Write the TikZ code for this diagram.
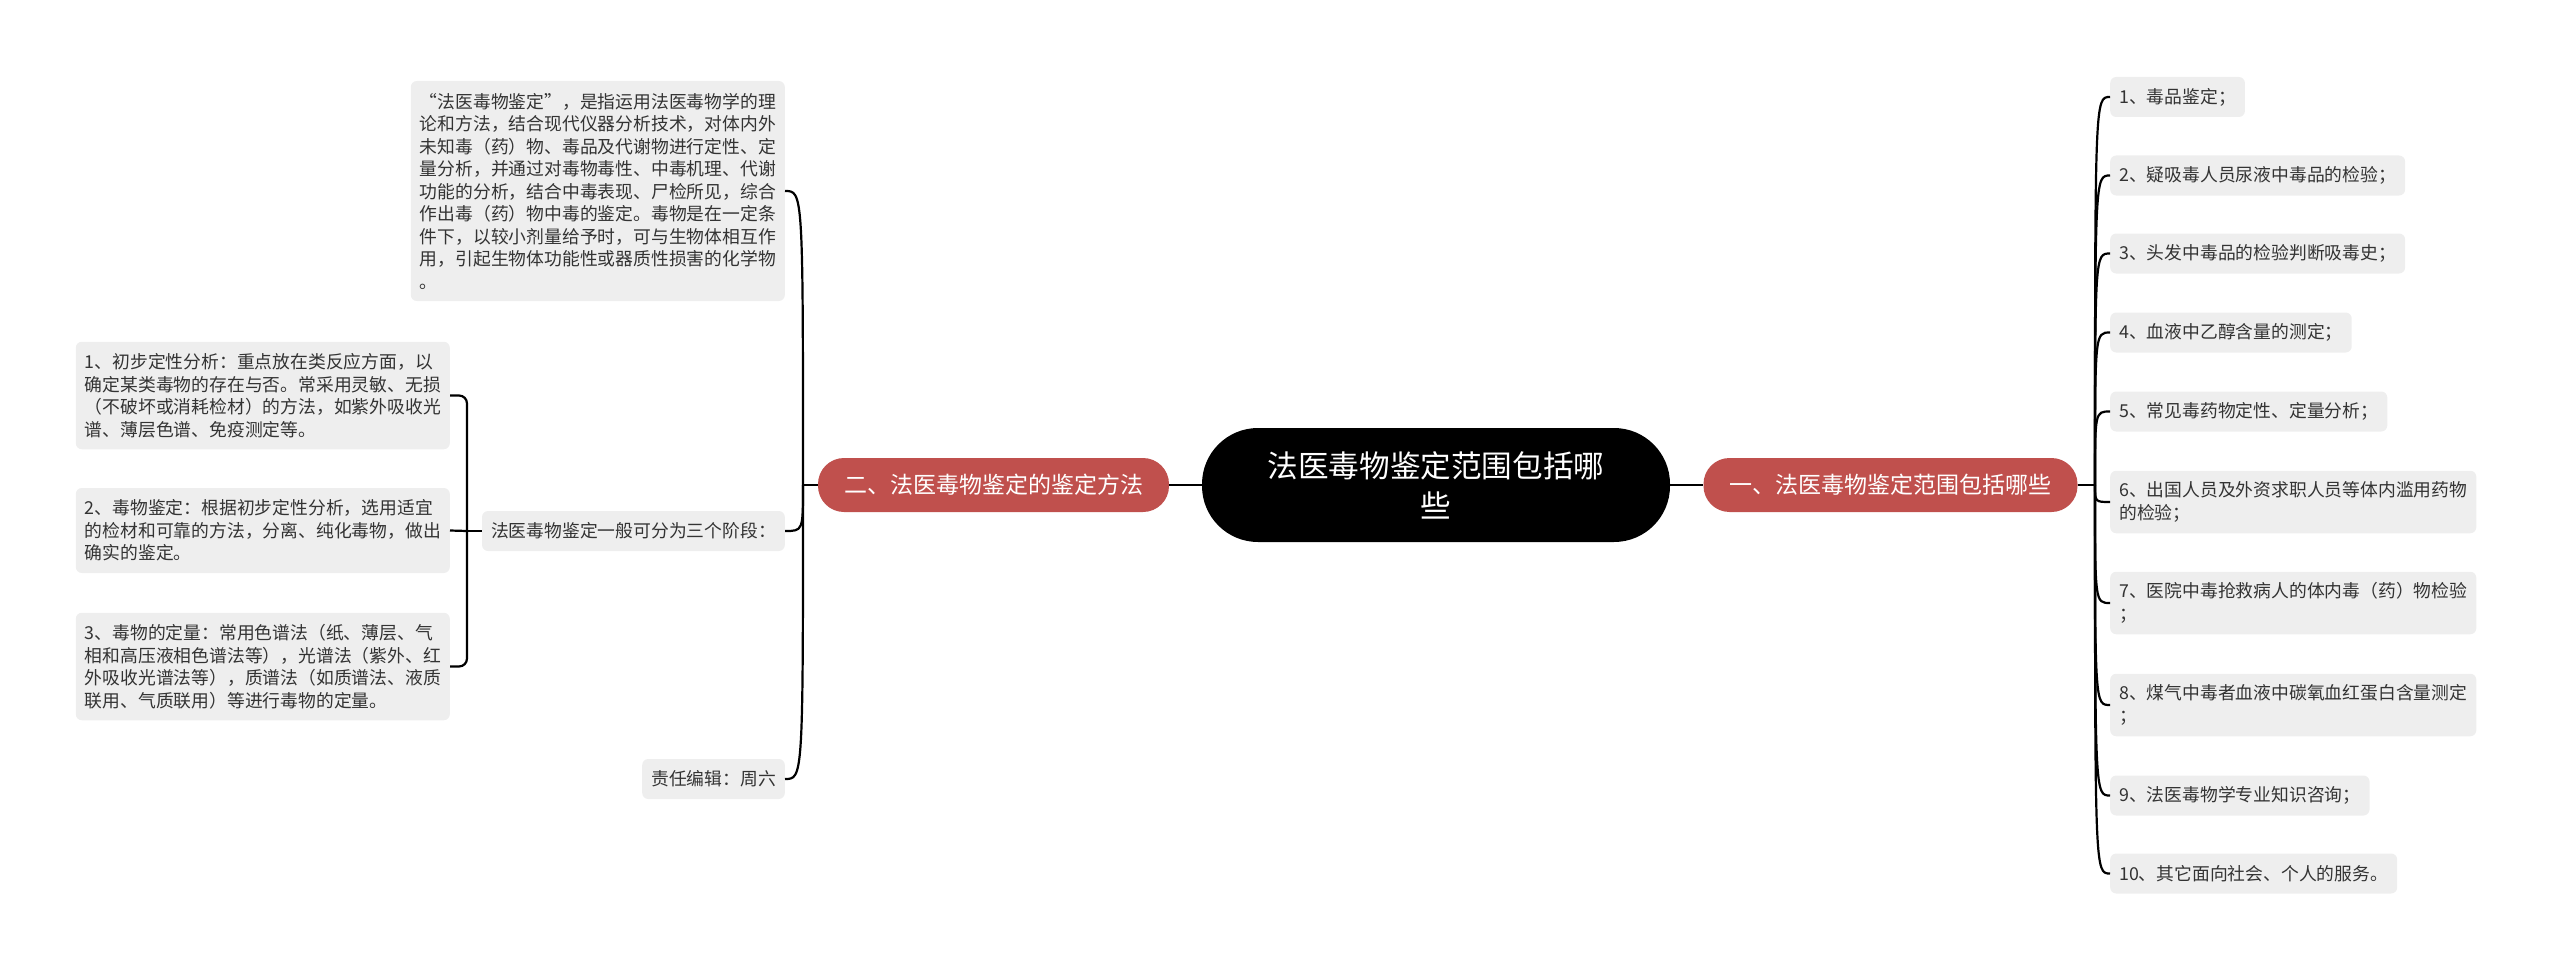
\documentclass[tikz,border=0pt]{standalone}
\usepackage{fontspec}
\setmainfont{Noto Sans CJK SC}
\definecolor{boxgray}{HTML}{EEEEEE}
\definecolor{branchred}{HTML}{C0504D}
\definecolor{leaftext}{HTML}{333333}

\tikzset{
  root/.style={fill=black, text=white, rounded corners=56pt, minimum width=468pt,
    minimum height=114pt, align=center, font=\fontsize{30.6}{40}\selectfont},
  branch/.style={fill=branchred, text=white, rounded corners=26pt, minimum height=54pt,
    inner xsep=26pt, font=\fontsize{23}{28}\selectfont},
  leaf/.style={fill=boxgray, text=leaftext, rounded corners=6pt, inner xsep=9pt,
    inner ysep=3pt, align=left, minimum height=#1, font=\fontsize{17.8}{22.5}\selectfont},
  leaf/.default=40pt,
  link/.style={draw=black, line width=2.2pt},
}

\begin{document}
\begin{tikzpicture}[x=1pt, y=-1pt]
    \useasboundingbox (0,0) rectangle (2560,971);

    % Center and main branches
    \node[root] (root) at (1436,485) {法医毒物鉴定范围包括哪\\些};
    \node[branch] (lb) at (993.5,485) {二、法医毒物鉴定的鉴定方法};
    \node[branch] (rb) at (1890.5,485) {一、法医毒物鉴定范围包括哪些};

    % Left branch children
    \node[leaf=220pt, anchor=east] (desc) at (785,191) {“法医毒物鉴定”，是指运用法医毒物学的理\\论和方法，结合现代仪器分析技术，对体内外\\未知毒（药）物、毒品及代谢物进行定性、定\\量分析，并通过对毒物毒性、中毒机理、代谢\\功能的分析，结合中毒表现、尸检所见，综合\\作出毒（药）物中毒的鉴定。毒物是在一定条\\件下，以较小剂量给予时，可与生物体相互作\\用，引起生物体功能性或器质性损害的化学物\\。};
    \node[leaf, anchor=east] (stage) at (785,531) {法医毒物鉴定一般可分为三个阶段：};
    \node[leaf, anchor=east] (editor) at (785,779) {责任编辑：周六};

    % The three stages
    \node[leaf=107.5pt, anchor=east] (s1) at (450,395.5) {1、初步定性分析：重点放在类反应方面，以\\确定某类毒物的存在与否。常采用灵敏、无损\\（不破坏或消耗检材）的方法，如紫外吸收光\\谱、薄层色谱、免疫测定等。};
    \node[leaf=85pt, anchor=east] (s2) at (450,530.5) {2、毒物鉴定：根据初步定性分析，选用适宜\\的检材和可靠的方法，分离、纯化毒物，做出\\确实的鉴定。};
    \node[leaf=107.5pt, anchor=east] (s3) at (450,666.5) {3、毒物的定量：常用色谱法（纸、薄层、气\\相和高压液相色谱法等），光谱法（紫外、红\\外吸收光谱法等），质谱法（如质谱法、液质\\联用、气质联用）等进行毒物的定量。};

    % Right branch children
    \node[leaf, anchor=west] (r1) at (2110,97) {1、毒品鉴定；};
    \node[leaf, anchor=west] (r2) at (2110,175.5) {2、疑吸毒人员尿液中毒品的检验；};
    \node[leaf, anchor=west] (r3) at (2110,253.5) {3、头发中毒品的检验判断吸毒史；};
    \node[leaf, anchor=west] (r4) at (2110,332.5) {4、血液中乙醇含量的测定；};
    \node[leaf, anchor=west] (r5) at (2110,411.5) {5、常见毒药物定性、定量分析；};
    \node[leaf=62.5pt, anchor=west] (r6) at (2110,502) {6、出国人员及外资求职人员等体内滥用药物\\的检验；};
    \node[leaf=62.5pt, anchor=west] (r7) at (2110,603) {7、医院中毒抢救病人的体内毒（药）物检验\\；};
    \node[leaf=62.5pt, anchor=west] (r8) at (2110,705) {8、煤气中毒者血液中碳氧血红蛋白含量测定\\；};
    \node[leaf, anchor=west] (r9) at (2110,795.5) {9、法医毒物学专业知识咨询；};
    \node[leaf, anchor=west] (r10) at (2110,873.5) {10、其它面向社会、个人的服务。};

    % Fork points
    \coordinate (lfork) at (803,485);
    \coordinate (rfork) at (2095,485);
    \coordinate (sfork) at (467,531);

    % Connectors
    \draw[link] (root.west) -- (lb.east);
    \draw[link] (root.east) -- (rb.west);

    \draw[link] (lb.west) -- (lfork);
    \draw[link] (lfork) .. controls (lfork |- desc.east) .. (desc.east);
    \draw[link] (lfork) .. controls (lfork |- stage.east) .. (stage.east);
    \draw[link] (lfork) .. controls (lfork |- editor.east) .. (editor.east);

    \draw[link] (stage.west) -- (sfork);
    \draw[link, rounded corners=8pt] (sfork) |- (s1.east);
    \draw[link] (sfork) -- (s2.east);
    \draw[link, rounded corners=8pt] (sfork) |- (s3.east);

    \draw[link] (rb.east) -- (rfork);
    \draw[link] (rfork) .. controls (rfork |- r1.west) .. (r1.west);
    \draw[link] (rfork) .. controls (rfork |- r2.west) .. (r2.west);
    \draw[link] (rfork) .. controls (rfork |- r3.west) .. (r3.west);
    \draw[link] (rfork) .. controls (rfork |- r4.west) .. (r4.west);
    \draw[link] (rfork) .. controls (rfork |- r5.west) .. (r5.west);
    \draw[link] (rfork) .. controls (rfork |- r6.west) .. (r6.west);
    \draw[link] (rfork) .. controls (rfork |- r7.west) .. (r7.west);
    \draw[link] (rfork) .. controls (rfork |- r8.west) .. (r8.west);
    \draw[link] (rfork) .. controls (rfork |- r9.west) .. (r9.west);
    \draw[link] (rfork) .. controls (rfork |- r10.west) .. (r10.west);
\end{tikzpicture}
\end{document}
